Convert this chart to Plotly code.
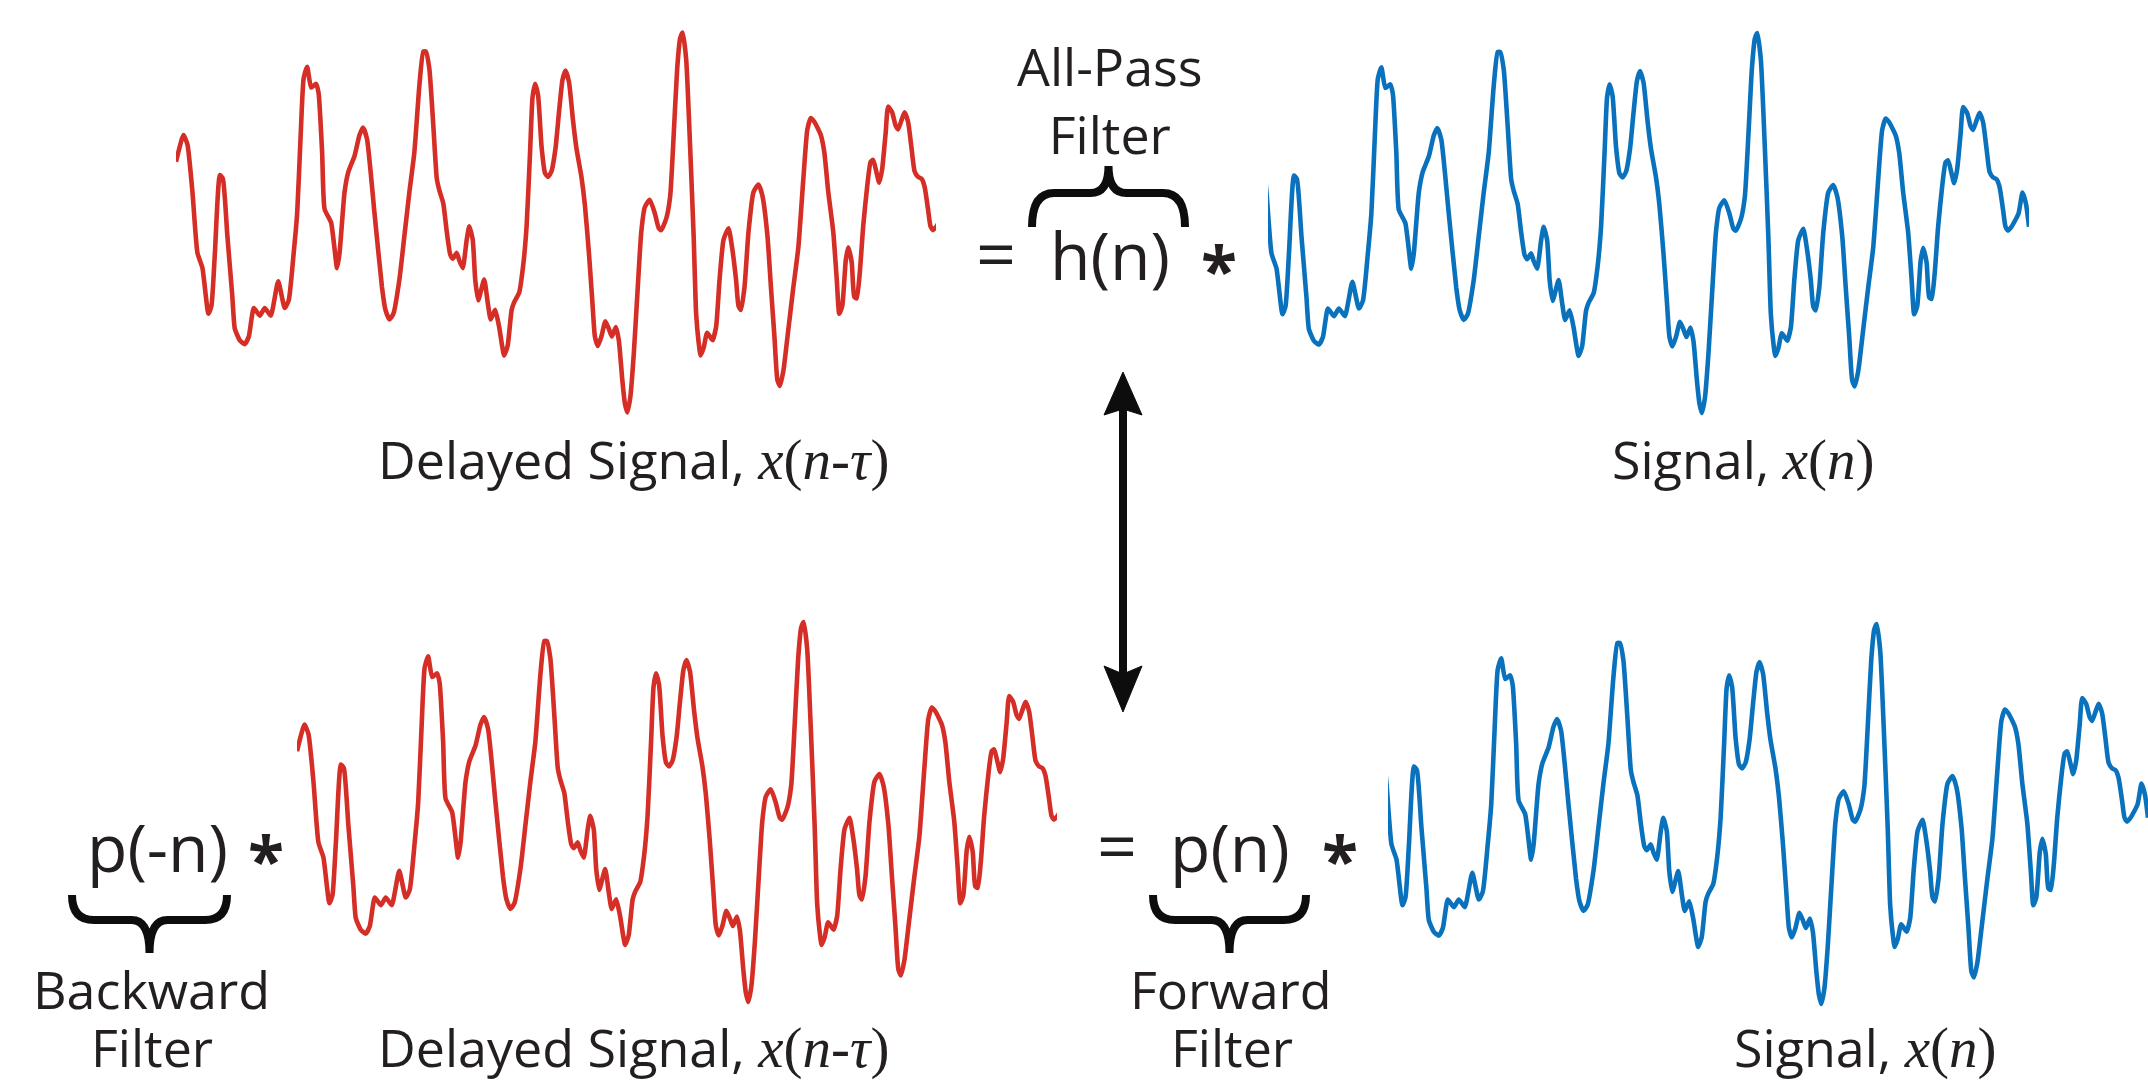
import plotly.graph_objects as go

W, H = 2148, 1082

# ---- data: base signal x(n) ----
n_samples = [-14, -6.5, -2.5, 2.5, 7.5, 12.5, 18.5, 21.5, 25, 30, 33, 37.5, 42.5, 45, 50, 55, 59, 64, 70, 75,
             81, 88.5, 95, 99, 104, 107.5, 111, 114, 117.5, 121.5, 126.5, 129, 132.5, 135, 141.5, 147.5, 150,
             155, 159, 165, 170, 173.5, 177.5, 185, 192.5, 196, 200, 204, 210, 215, 220, 225, 230, 234, 236.5,
             240, 244, 247.5, 250, 254, 257.5, 261, 263.5, 267.5, 270, 273.5, 277.5, 280, 283.5, 286, 289, 295,
             298.5, 301.5, 306, 310, 313, 315, 318.5, 322.5, 325, 330, 334, 337.5, 341, 343.5, 346, 349, 352.5,
             356, 359, 362.5, 366.5, 370, 373.5, 376.5, 380, 384, 387.5, 392.5, 396, 400, 403.5, 406, 409, 412.5,
             416.5, 420, 423, 427, 430, 433.5, 436, 438.5, 441.5, 445, 449, 452.5, 456, 461, 466, 470, 472.5,
             477.5, 481.5, 485, 488.5, 491.5, 494, 497.5, 501, 505, 507.5, 510, 512, 515, 518.5, 522.5, 524,
             527.5, 531, 535, 540, 543.5, 547.5, 550, 552.5, 556, 560, 565, 570, 574, 579, 582.5, 586, 589,
             591.5, 595, 600, 605, 610, 615, 619, 622.5, 626, 632.5, 636, 640, 645, 648.5, 651, 654, 657.5, 660,
             663.5, 666, 668.5, 671.5, 675, 679, 682.5, 685, 688.5, 691, 694, 697.5, 700, 704, 707.5, 710, 713.5,
             716.5, 720, 723.5, 726.5, 730, 733.5, 736.5, 740, 742.5, 745, 748.5, 755.5, 759.5, 763, 766]
signal = [0.32, 0.46, 0.41, 0.16, -0.16, -0.24, -0.48, -0.44, -0.16, 0.25, 0.23, -0.07, -0.39, -0.56, -0.62,
          -0.64, -0.60, -0.45, -0.49, -0.45, -0.49, -0.31, -0.45, -0.41, -0.16, 0.05, 0.46, 0.76, 0.82, 0.71,
          0.73, 0.68, 0.37, 0.07, 0.00, -0.24, -0.16, 0.16, 0.27, 0.35, 0.46, 0.50, 0.44, 0.05, -0.34, -0.46,
          -0.51, -0.48, -0.30, -0.07, 0.16, 0.37, 0.72, 0.90, 0.90, 0.81, 0.51, 0.23, 0.17, 0.10, -0.05, -0.17,
          -0.19, -0.16, -0.20, -0.24, -0.09, -0.02, -0.09, -0.30, -0.41, -0.30, -0.42, -0.51, -0.46, -0.55,
          -0.65, -0.70, -0.65, -0.46, -0.42, -0.37, -0.23, -0.02, 0.37, 0.66, 0.73, 0.67, 0.40, 0.26, 0.24,
          0.27, 0.39, 0.58, 0.75, 0.80, 0.74, 0.54, 0.39, 0.24, 0.09, -0.16, -0.42, -0.60, -0.65, -0.60, -0.52,
          -0.56, -0.60, -0.55, -0.62, -0.83, -0.95, -1.00, -0.92, -0.69, -0.34, -0.05, 0.08, 0.12, 0.05, -0.03,
          -0.04, 0.02, 0.14, 0.46, 0.81, 0.97, 1.00, 0.86, 0.46, -0.07, -0.48, -0.63, -0.70, -0.66, -0.58,
          -0.61, -0.62, -0.55, -0.30, -0.09, -0.03, -0.13, -0.30, -0.44, -0.46, -0.34, -0.05, 0.16, 0.20, 0.14,
          -0.07, -0.34, -0.60, -0.83, -0.86, -0.78, -0.56, -0.34, -0.13, 0.23, 0.49, 0.55, 0.53, 0.46, 0.37,
          0.16, -0.05, -0.30, -0.48, -0.44, -0.20, -0.13, -0.21, -0.39, -0.40, -0.27, -0.02, 0.19, 0.32, 0.33,
          0.26, 0.21, 0.28, 0.47, 0.61, 0.58, 0.51, 0.49, 0.54, 0.58, 0.53, 0.39, 0.27, 0.24, 0.23, 0.19, 0.07,
          -0.02, -0.04, -0.02, 0.05, 0.16, 0.10, -0.02]
tau = 18                 # delay (samples)
window = [4, 766]        # visible n-range of each panel

RED = "#d42e26"
BLUE = "#0a72bd"
INK = "#231f20"
BLACK = "#0d0d0d"
SANS = "Open Sans"
SERIF = "Liberation Serif"


def px(x):
    return x / W


def py(y):
    return 1 - y / H


UNIT = 190   # px per signal unit
HALF = 205   # half-height of each panel (px)
panels = [
    dict(x0=176, x1=936, yc=222.5, delayed=True),
    dict(x0=1268, x1=2029, yc=223, delayed=False),
    dict(x0=297, x1=1057, yc=812, delayed=True),
    dict(x0=1388, x1=2148, yc=814, delayed=False),
]

fig = go.Figure()
for i, p in enumerate(panels, start=1):
    sfx = "" if i == 1 else str(i)
    xs = [n + tau for n in n_samples] if p["delayed"] else list(n_samples)
    fig.add_trace(go.Scatter(
        x=xs, y=signal, mode="lines",
        line=dict(color=RED if p["delayed"] else BLUE, width=4.6, shape="spline", smoothing=0.5),
        xaxis="x" + sfx, yaxis="y" + sfx, hoverinfo="skip", showlegend=False))
    fig.layout["xaxis" + sfx] = dict(domain=[px(p["x0"]), px(p["x1"])], range=window, visible=False,
                                     fixedrange=True, anchor="y" + sfx)
    fig.layout["yaxis" + sfx] = dict(domain=[py(p["yc"] + HALF), py(p["yc"] - HALF)],
                                     range=[-HALF / UNIT, HALF / UNIT], visible=False, fixedrange=True,
                                     anchor="x" + sfx)

annotations = []


def text(x, y, t, size=52, family=SANS):
    annotations.append(dict(x=px(x), y=py(y), xref="paper", yref="paper", text=t, showarrow=False,
                            xanchor="center", yanchor="middle",
                            font=dict(family=family, size=size, color=INK)))


def mathspan(inner):
    return f'<span style="font-family:{SERIF}; font-size:57px">{inner}</span>'


delayed_lbl = "Delayed Signal, " + mathspan("<i>x</i>(<i>n</i>-<i>τ</i>)")
signal_lbl = "Signal, " + mathspan("<i>x</i>(<i>n</i>)")

text(633, 459, delayed_lbl)
text(1743, 459, signal_lbl)
text(633, 1046, delayed_lbl)
text(1865, 1046, signal_lbl)

text(1110, 99, "All-Pass<br>Filter")
text(151, 988, "Backward")
text(152, 1046, "Filter")
text(1231, 988, "Forward")
text(1232, 1046, "Filter")

text(996, 252, "=", 70)
text(1110, 254, "h(n)", 66)
text(1219, 269, "<b>*</b>", 66)

text(157, 846, "p(-n)", 66)
text(266, 859, "<b>*</b>", 66)
text(1117, 844, "=", 70)
text(1230, 846, "p(n)", 66)
text(1340, 859, "<b>*</b>", 66)

shapes = []


def path(cmds):
    out = []
    for c in cmds:
        if isinstance(c, str):
            out.append(c)
        else:
            out.append(f"{px(c[0]):.5f},{py(c[1]):.5f}")
    return " ".join(out)


def brace(xl, xr, yend, ybar, ytip):
    xm = (xl + xr) / 2
    r = 22
    return path(["M", (xl, yend), "Q", (xl, ybar), (xl + r, ybar), "L", (xm - 18, ybar),
                 "Q", (xm, ybar), (xm, ytip), "Q", (xm, ybar), (xm + 18, ybar),
                 "L", (xr - r, ybar), "Q", (xr, ybar), (xr, yend)])


for b in [(1032, 1185, 227, 193, 166), (72, 227, 895, 920, 953), (1153, 1306, 895, 920, 953)]:
    shapes.append(dict(type="path", xref="paper", yref="paper", path=brace(*b),
                       line=dict(color=BLACK, width=8)))

# double-headed arrow
AX = 1123
shapes.append(dict(type="line", xref="paper", yref="paper", x0=px(AX), x1=px(AX), y0=py(405), y1=py(680),
                   line=dict(color=BLACK, width=8)))
shapes.append(dict(type="path", xref="paper", yref="paper",
                   path=path(["M", (AX, 372), "L", (AX + 19, 415), "L", (AX, 409), "L", (AX - 19, 415), "Z"]),
                   fillcolor=BLACK, line=dict(color=BLACK, width=1)))
shapes.append(dict(type="path", xref="paper", yref="paper",
                   path=path(["M", (AX, 712), "L", (AX + 19, 666), "L", (AX, 674), "L", (AX - 19, 666), "Z"]),
                   fillcolor=BLACK, line=dict(color=BLACK, width=1)))

fig.update_layout(width=W, height=H, autosize=False, margin=dict(l=0, r=0, t=0, b=0, pad=0),
                  paper_bgcolor="white", plot_bgcolor="rgba(0,0,0,0)", showlegend=False,
                  annotations=annotations, shapes=shapes)

fig.write_html("out.html", config={"displayModeBar": False},
               post_script="document.body.style.margin='0px';")
